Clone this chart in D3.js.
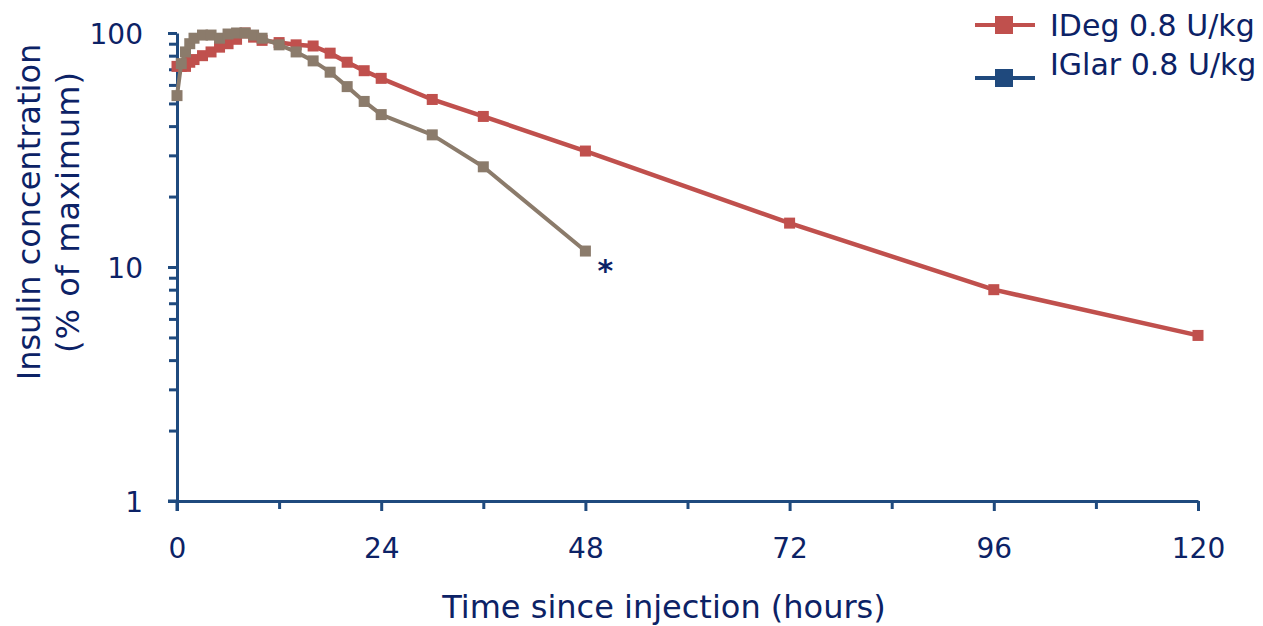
<!DOCTYPE html>
<html>
<head>
<meta charset="utf-8">
<script src="https://cdn.jsdelivr.net/npm/d3@7"></script>
<style>
  html, body { margin: 0; padding: 0; background: #fff; }
  svg { display: block; font-family: "DejaVu Sans", Verdana, sans-serif; }
</style>
</head>
<body>
<svg id="chart" width="1263" height="626"></svg>
<script>
// Sampling times (hours after injection)
const timesIDeg = [0, 0.5, 1, 1.5, 2, 3, 4, 5, 6, 7, 8, 9, 10, 12, 14, 16, 18, 20, 22, 24, 30, 36, 48, 72, 96, 120];
const timesIGlar = [0, 0.5, 1, 1.5, 2, 3, 4, 5, 6, 7, 8, 9, 10, 12, 14, 16, 18, 20, 22, 24, 30, 36, 48];

// Insulin concentration, % of maximum
const valuesIDeg = [72, 72, 72, 75, 77, 80, 83, 87, 90, 94, 100, 96, 93, 91, 89, 88, 82, 75, 69, 64, 52, 44, 31.3, 15.4, 8.0, 5.1];
const valuesIGlar = [54, 74, 83, 90, 95, 98, 98, 95, 99, 100, 100, 98, 95, 89, 83, 76, 68, 59, 51, 44.8, 36.7, 26.8, 11.7];

const seriesNames = ["IDeg 0.8 U/kg", "IGlar 0.8 U/kg"];
const xTickValues = [0, 24, 48, 72, 96, 120];
const xMinorTicks = [12, 36, 60, 84, 108];
const yTickValues = [1, 10, 100];

const navy = "#0c2266";
const axisColor = "#1f4a7e";
const redColor = "#c0504d";
const greyColor = "#8b7b6b";
const legendBlue = "#1f497d";

const svg = d3.select("#chart");

const x = d3.scaleLinear().domain([0, 120]).range([177, 1198]);
const y = d3.scaleLog().domain([1, 100]).range([501, 33]);

// Axes
const xAxis = svg.append("g").attr("transform", `translate(0,${y(1)})`)
  .call(d3.axisBottom(x).tickValues(xTickValues).tickSize(10).tickSizeOuter(0).tickFormat(d3.format("d")));
xAxis.selectAll("text").attr("dy", 0).attr("y", 57).style("font-size", "28px").attr("fill", navy)
  .style("font-family", "DejaVu Sans, Verdana, sans-serif");

const xMinor = svg.append("g").attr("transform", `translate(0,${y(1)})`)
  .call(d3.axisBottom(x).tickValues(xMinorTicks).tickSize(8).tickSizeOuter(0).tickFormat(""));
xMinor.select(".domain").remove();

const minorY = [];
for (const base of [1, 10]) for (let k = 2; k <= 9; k++) minorY.push(base * k);

const yAxis = svg.append("g").attr("transform", `translate(${x(0)},0)`)
  .call(d3.axisLeft(y).tickValues(yTickValues).tickSize(9).tickSizeOuter(0).tickFormat(d3.format("d")));
yAxis.selectAll("text").attr("x", -34).attr("dy", "0.36em").style("font-size", "28px").attr("fill", navy)
  .style("font-family", "DejaVu Sans, Verdana, sans-serif");

const yMinor = svg.append("g").attr("transform", `translate(${x(0)},0)`)
  .call(d3.axisLeft(y).tickValues(minorY).tickSize(8).tickSizeOuter(0).tickFormat(""));
yMinor.select(".domain").remove();

// extend the axis lines slightly past the origin
svg.append("line").attr("x1", x(0)).attr("x2", x(0)).attr("y1", y(1)).attr("y2", y(1) + 10)
  .attr("stroke", axisColor).attr("stroke-width", 3);
svg.append("line").attr("x1", x(0) - 9).attr("x2", x(0)).attr("y1", y(1)).attr("y2", y(1))
  .attr("stroke", axisColor).attr("stroke-width", 3);

svg.selectAll(".domain, .tick line").attr("stroke", axisColor).attr("stroke-width", 3);

// Series
const line = d3.line().x(d => x(d[0])).y(d => y(d[1]));
const ideg = d3.zip(timesIDeg, valuesIDeg);
const iglar = d3.zip(timesIGlar, valuesIGlar);

function drawSeries(data, color, width) {
  svg.append("path").datum(data).attr("d", line)
    .attr("fill", "none").attr("stroke", color).attr("stroke-width", width).attr("stroke-linejoin", "round");
  svg.append("g").selectAll("rect").data(data).join("rect")
    .attr("x", d => x(d[0]) - 5.5).attr("y", d => y(d[1]) - 5.5)
    .attr("width", 11).attr("height", 11).attr("fill", color);
}
drawSeries(ideg, redColor, 4.5);
drawSeries(iglar, greyColor, 4);

// significance marker next to the last IGlar sample
const lastG = iglar[iglar.length - 1];
svg.append("text").attr("x", x(lastG[0]) + 12).attr("y", y(lastG[1]) + 30)
  .attr("fill", navy).style("font-size", "30px").style("font-weight", "bold").text("*");

// Axis titles
svg.append("text").attr("x", 664).attr("y", 618).attr("text-anchor", "middle")
  .attr("fill", navy).style("font-size", "32px").text("Time since injection (hours)");
const yt = svg.append("text").attr("transform", "translate(0,212) rotate(-90)")
  .attr("text-anchor", "middle").attr("fill", navy).style("font-size", "32px");
yt.append("tspan").attr("x", 0).attr("y", 40).text("Insulin concentration");
yt.append("tspan").attr("x", 0).attr("y", 79).style("letter-spacing", "1px").text("(% of maximum)");

// Legend
const legend = [
  { name: seriesNames[0], color: redColor, ly: 25, ty: 25 },
  { name: seriesNames[1], color: legendBlue, ly: 78, ty: 64 }
];
const lg = svg.append("g");
legend.forEach(d => {
  lg.append("line").attr("x1", 975).attr("x2", 1035).attr("y1", d.ly).attr("y2", d.ly)
    .attr("stroke", d.color).attr("stroke-width", 4);
  lg.append("rect").attr("x", 995).attr("y", d.ly - 9).attr("width", 18).attr("height", 18).attr("fill", d.color);
  lg.append("text").attr("x", 1050).attr("y", d.ty).attr("dy", "0.36em")
    .attr("fill", navy).style("font-size", "30px").text(d.name);
});
</script>
</body>
</html>
